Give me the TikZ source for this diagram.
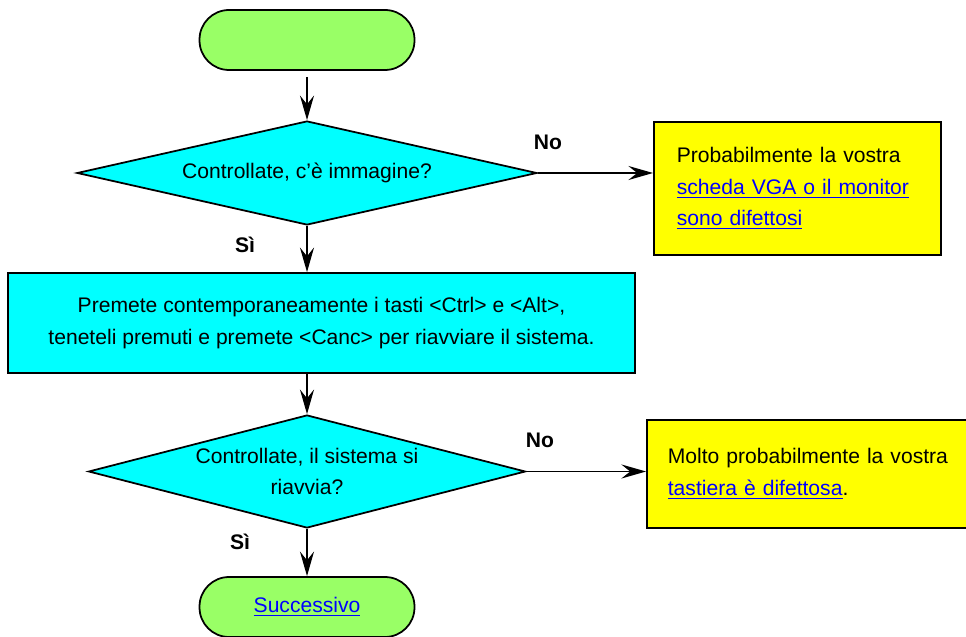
\documentclass[tikz,border=0pt]{standalone}
\usepackage{fontspec}
\setmainfont{Liberation Sans}
\usetikzlibrary{shapes.geometric, arrows.meta, positioning}
\definecolor{termgreen}{RGB}{153,255,102}
\definecolor{boxcyan}{RGB}{0,255,255}
\definecolor{notebox}{RGB}{255,255,0}
\definecolor{linkblue}{RGB}{0,0,255}

\begin{document}
\begin{tikzpicture}[x=0.02cm, y=0.02cm, line width=1pt,
  font=\fontsize{12}{18}\selectfont,
  flow/.style={-{Stealth[length=14pt, width=8pt, inset=5pt]}},
  term/.style={draw, fill=termgreen, rounded corners=0.59cm,
               minimum width=4.3cm, minimum height=1.2cm},
  decision/.style={draw, fill=boxcyan, diamond, inner sep=0pt, align=center},
  process/.style={draw, fill=boxcyan, align=center},
  note/.style={draw, fill=notebox, align=left, anchor=west},
  answer/.style={font=\fontsize{12}{14}\selectfont\bfseries}]
  \useasboundingbox (0,0) rectangle (966,636);
  \clip (0,0) rectangle (966,636);

  % blocks
  \node[term] (start) at (307,596) {};
  \node[decision, aspect=4.42, minimum width=9.2cm, minimum height=2.08cm] (chk1) at (307,463)
        {Controllate, c’è immagine?};
  \node[note, minimum width=5.74cm, minimum height=2.66cm,
        inner xsep=0.46cm, text width=4.82cm] (vga) at (653,447.5)
        {Probabilmente la vostra\\
         {\color{linkblue}\underline{scheda VGA o il monitor}}\\
         {\color{linkblue}\underline{sono difettosi}}};
  \node[process, minimum width=12.54cm, minimum height=2cm] (reboot) at (321.5,313)
        {Premete contemporaneamente i tasti <Ctrl> e <Alt>,\\
         teneteli premuti e premete <Canc> per riavviare il sistema.};
  \node[decision, aspect=3.87, minimum width=8.74cm, minimum height=2.26cm] (chk2) at (307,164.5)
        {Controllate, il sistema si\\riavvia?};
  \node[note, minimum width=6.6cm, minimum height=2.16cm,
        inner xsep=0.42cm, text width=5.76cm] (kbd) at (646,162)
        {Molto probabilmente la vostra\\
         {\color{linkblue}\underline{tastiera è difettosa}}.};
  \node[term] (next) at (307,29) {\color{linkblue}\underline{Successivo}};

  % connectors
  \draw[flow, shorten <=0.12cm] (start) -- (chk1);
  \draw[flow] (chk1.south) -- (chk1.south |- reboot.north);
  \draw[flow] (reboot.south -| chk2.north) -- (chk2.north);
  \draw[flow] (chk2) -- (next);
  \draw[flow] (chk1.east) -- (chk1.east -| vga.west);
  \draw[flow] (chk2.east) -- (chk2.east -| kbd.west);

  % answers
  \node[answer] (yes1) at (245,391) {Sì};
  \node[answer] (no1)  at (548,494) {No};
  \node[answer] (yes2) at (240,94)  {Sì};
  \node[answer] (no2)  at (540,196) {No};
\end{tikzpicture}
\end{document}
